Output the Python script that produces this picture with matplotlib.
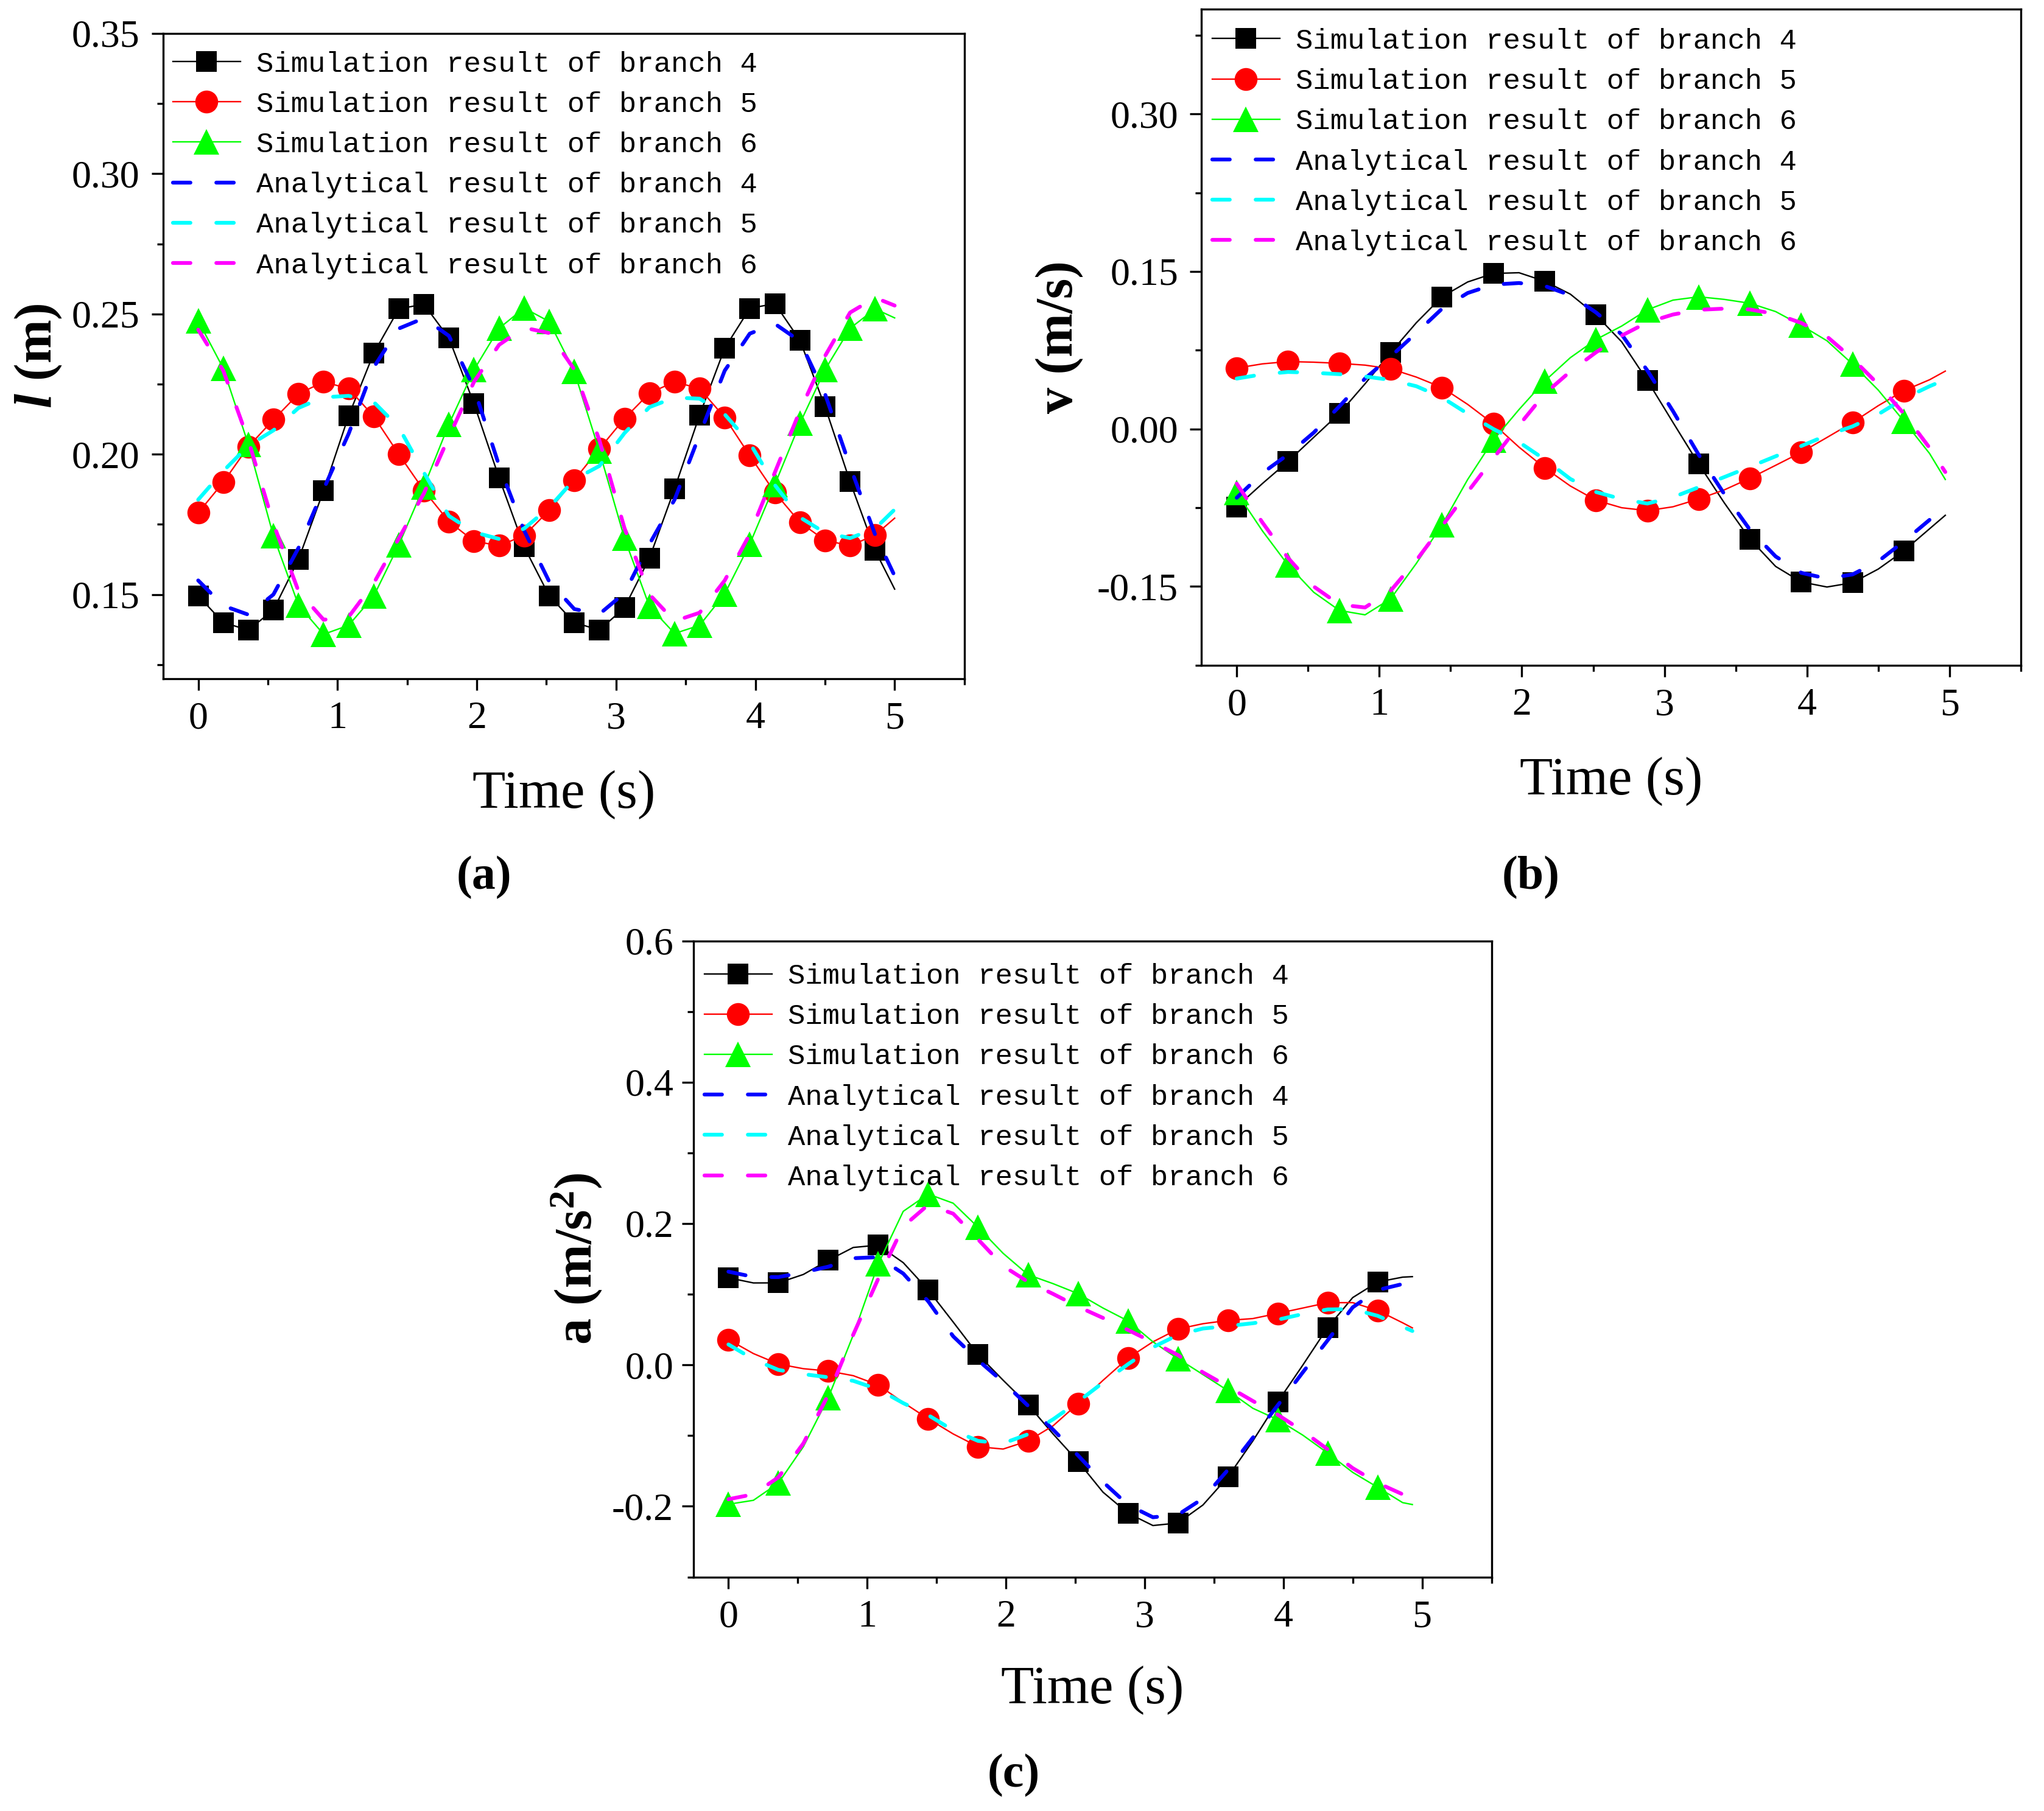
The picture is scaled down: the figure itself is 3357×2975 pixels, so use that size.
import matplotlib
matplotlib.use('Agg')
import matplotlib.pyplot as plt
from matplotlib.ticker import MultipleLocator, FormatStrFormatter

# fonts: Times-like for axes, narrow mono for the legend
plt.rcParams['font.family'] = 'Liberation Serif'
plt.rcParams['axes.unicode_minus'] = False
plt.rcParams['mathtext.fontset'] = 'custom'
plt.rcParams['mathtext.rm'] = 'Liberation Serif:bold'
plt.rcParams['mathtext.it'] = 'Liberation Serif:italic:bold'
plt.rcParams['mathtext.bf'] = 'Liberation Serif:bold'

# ---------------- data ----------------
labels = ['Simulation result of branch 4', 'Simulation result of branch 5',
          'Simulation result of branch 6', 'Analytical result of branch 4',
          'Analytical result of branch 5', 'Analytical result of branch 6']

# (a) length l (m)
t_a = [0.00, 0.18, 0.36, 0.54, 0.72, 0.90, 1.08, 1.26, 1.44, 1.62, 1.80, 1.98,
       2.16, 2.34, 2.52, 2.70, 2.88, 3.06, 3.24, 3.42, 3.60, 3.78, 3.96, 4.14,
       4.32, 4.50, 4.68, 4.86, 5.00]
sim_a4 = [0.1495, 0.1400, 0.1373, 0.1445, 0.1625, 0.1870, 0.2137, 0.2360, 0.2518,
          0.2535, 0.2414, 0.2180, 0.1916, 0.1670, 0.1495, 0.1400, 0.1373, 0.1453,
          0.1630, 0.1877, 0.2140, 0.2378, 0.2520, 0.2537, 0.2406, 0.2170, 0.1902,
          0.1657, 0.1519]
sim_a5 = [0.1791, 0.1900, 0.2027, 0.2123, 0.2215, 0.2258, 0.2234, 0.2135, 0.2000,
          0.1871, 0.1760, 0.1690, 0.1674, 0.1710, 0.1800, 0.1908, 0.2019, 0.2127,
          0.2218, 0.2258, 0.2234, 0.2131, 0.1995, 0.1863, 0.1757, 0.1693, 0.1674,
          0.1712, 0.1772]
sim_a6 = [0.2476, 0.2306, 0.2035, 0.1709, 0.1462, 0.1358, 0.1390, 0.1494, 0.1677,
          0.1884, 0.2107, 0.2301, 0.2449, 0.2521, 0.2473, 0.2295, 0.2011, 0.1701,
          0.1457, 0.1361, 0.1390, 0.1502, 0.1680, 0.1892, 0.2110, 0.2301, 0.2449,
          0.2518, 0.2486]
ana_a4 = [0.1550, 0.1460, 0.1428, 0.1500, 0.1666, 0.1875, 0.2073, 0.2310, 0.2448,
          0.2485, 0.2422, 0.2235, 0.1960, 0.1728, 0.1546, 0.1448, 0.1430, 0.1505,
          0.1680, 0.1838, 0.2070, 0.2298, 0.2430, 0.2465, 0.2403, 0.2215, 0.1957,
          0.1713, 0.1566]
ana_a5 = [0.1838, 0.1940, 0.2030, 0.2085, 0.2165, 0.2203, 0.2208, 0.2186, 0.2096,
          0.1935, 0.1780, 0.1722, 0.1698, 0.1735, 0.1810, 0.1910, 0.1958, 0.2075,
          0.2168, 0.2202, 0.2198, 0.2142, 0.2040, 0.1890, 0.1775, 0.1720, 0.1701,
          0.1735, 0.1803]
ana_a6 = [0.2444, 0.2298, 0.2050, 0.1752, 0.1512, 0.1410, 0.1420, 0.1540, 0.1700,
          0.1860, 0.2062, 0.2258, 0.2390, 0.2451, 0.2432, 0.2302, 0.2050, 0.1737,
          0.1500, 0.1405, 0.1435, 0.1550, 0.1715, 0.1935, 0.2155, 0.2350, 0.2505,
          0.2558, 0.2530]

# (b) velocity v (m/s)
t_b = [0.00, 0.18, 0.36, 0.54, 0.72, 0.90, 1.08, 1.26, 1.44, 1.62, 1.80, 1.98,
       2.16, 2.34, 2.52, 2.70, 2.88, 3.06, 3.24, 3.42, 3.60, 3.78, 3.96, 4.14,
       4.32, 4.50, 4.68, 4.86, 4.97]
sim_b4 = [-0.0741, -0.0520, -0.0309, -0.0080, 0.0148, 0.0430, 0.0728, 0.1012, 0.1259,
          0.1400, 0.1481, 0.1488, 0.1407, 0.1284, 0.1086, 0.0830, 0.0462, 0.0062,
          -0.0333, -0.0704, -0.1049, -0.1309, -0.1457, -0.1505, -0.1464, -0.1334,
          -0.1160, -0.0950, -0.0822]
sim_b5 = [0.0580, 0.0620, 0.0642, 0.0636, 0.0625, 0.0608, 0.0573, 0.0494, 0.0395,
          0.0234, 0.0049, -0.0173, -0.0370, -0.0543, -0.0679, -0.0750, -0.0778,
          -0.0741, -0.0667, -0.0580, -0.0469, -0.0346, -0.0222, -0.0081, 0.0062,
          0.0222, 0.0365, 0.0469, 0.0551]
sim_b6 = [-0.0605, -0.0970, -0.1296, -0.1555, -0.1728, -0.1770, -0.1617, -0.1280,
          -0.0913, -0.0481, -0.0106, 0.0185, 0.0456, 0.0679, 0.0852, 0.0980, 0.1135,
          0.1227, 0.1259, 0.1234, 0.1197, 0.1118, 0.0987, 0.0840, 0.0617, 0.0370,
          0.0074, -0.0234, -0.0481]
ana_b4 = [-0.0655, -0.0420, -0.0243, -0.0035, 0.0215, 0.0480, 0.0690, 0.0915, 0.1145,
          0.1295, 0.1375, 0.1390, 0.1362, 0.1274, 0.1110, 0.0900, 0.0557, 0.0170,
          -0.0245, -0.0620, -0.0960, -0.1214, -0.1370, -0.1425, -0.1385, -0.1260,
          -0.1070, -0.0865, -0.0730]
ana_b5 = [0.0480, 0.0520, 0.0543, 0.0535, 0.0522, 0.0500, 0.0467, 0.0407, 0.0300,
          0.0145, 0.0000, -0.0125, -0.0290, -0.0476, -0.0600, -0.0668, -0.0710,
          -0.0650, -0.0555, -0.0458, -0.0360, -0.0260, -0.0162, -0.0060, 0.0025,
          0.0140, 0.0290, 0.0407, 0.0470]
ana_b6 = [-0.0520, -0.0890, -0.1228, -0.1500, -0.1672, -0.1700, -0.1540, -0.1250,
          -0.0925, -0.0600, -0.0280, 0.0035, 0.0335, 0.0548, 0.0730, 0.0889, 0.1015,
          0.1090, 0.1135, 0.1146, 0.1138, 0.1095, 0.1010, 0.0880, 0.0670, 0.0425,
          0.0145, -0.0180, -0.0410]

# (c) acceleration a (m/s^2)
t_c = [0.00, 0.18, 0.36, 0.54, 0.72, 0.90, 1.08, 1.26, 1.44, 1.62, 1.80, 1.98,
       2.16, 2.34, 2.52, 2.70, 2.88, 3.06, 3.24, 3.42, 3.60, 3.78, 3.96, 4.14,
       4.32, 4.50, 4.68, 4.86, 4.93]
sim_c4 = [0.1233, 0.1160, 0.1161, 0.1280, 0.1480, 0.1662, 0.1695, 0.1447, 0.1061,
          0.0607, 0.0145, -0.0216, -0.0564, -0.0976, -0.1365, -0.1800, -0.2097,
          -0.2272, -0.2236, -0.1982, -0.1586, -0.1075, -0.0521, -0.0003, 0.0531,
          0.0953, 0.1174, 0.1242, 0.1249]
sim_c5 = [0.0359, 0.0161, 0.0013, -0.0053, -0.0086, -0.0152, -0.0284, -0.0531,
          -0.0762, -0.0976, -0.1157, -0.1190, -0.1075, -0.0861, -0.0547, -0.0218,
          0.0096, 0.0327, 0.0508, 0.0583, 0.0630, 0.0656, 0.0729, 0.0805, 0.0881,
          0.0881, 0.0771, 0.0596, 0.0524]
sim_c6 = [-0.1971, -0.1915, -0.1672, -0.1157, -0.0462, 0.0425, 0.1428, 0.2173, 0.2417,
          0.2288, 0.1946, 0.1579, 0.1276, 0.1150, 0.1009, 0.0805, 0.0623, 0.0327,
          0.0089, -0.0135, -0.0363, -0.0613, -0.0775, -0.0993, -0.1247, -0.1520,
          -0.1731, -0.1948, -0.1975]
ana_c4 = [0.1320, 0.1245, 0.1243, 0.1310, 0.1390, 0.1510, 0.1525, 0.1293, 0.0900,
          0.0405, 0.0066, -0.0240, -0.0578, -0.0915, -0.1280, -0.1655, -0.1980,
          -0.2155, -0.2120, -0.1890, -0.1485, -0.1030, -0.0570, -0.0105, 0.0350,
          0.0815, 0.1060, 0.1145, 0.1157]
ana_c5 = [0.0290, 0.0080, -0.0070, -0.0130, -0.0175, -0.0225, -0.0345, -0.0540,
          -0.0710, -0.0925, -0.1075, -0.1110, -0.0980, -0.0770, -0.0520, -0.0250,
          0.0010, 0.0250, 0.0425, 0.0515, 0.0550, 0.0590, 0.0640, 0.0720, 0.0785,
          0.0790, 0.0695, 0.0540, 0.0480]
ana_c6 = [-0.1900, -0.1830, -0.1590, -0.1110, -0.0420, 0.0430, 0.1220, 0.1960, 0.2265,
          0.2140, 0.1775, 0.1400, 0.1175, 0.1005, 0.0825, 0.0665, 0.0495, 0.0320,
          0.0140, -0.0105, -0.0305, -0.0510, -0.0705, -0.0935, -0.1195, -0.1460,
          -0.1670, -0.1830, -0.1877]

sim_colors = ['#000000', '#ff0000', '#00ff00']
sim_markers = ['s', 'o', '^']
sim_sizes = [24, 27, 30]
ana_colors = ['#0000ff', '#00ffff', '#ff00ff']


# Draw one panel: simulated curves with markers, analytical dashed on top
def draw_panel(ax, t, sims, anas, mark_step, ylim, ymajor, yminor, yfmt,
               ylabel, ylabel_x, xlabel_y, ypad, leg_xy):
    n = len(t) - 1  # last point is only the line end
    for i in range(3):
        ax.plot(t, sims[i], color=sim_colors[i], lw=1.7, marker=sim_markers[i],
                ms=sim_sizes[i], mew=0, markevery=slice(0, n, mark_step),
                label=labels[i], zorder=2)
    for i in range(3):
        ax.plot(t, anas[i], color=ana_colors[i], lw=4.5, dashes=(4.6, 6.8),
                dash_capstyle='round', label=labels[3 + i], zorder=3)

    ax.set_xlim(-0.25, 5.5)
    ax.set_ylim(*ylim)
    ax.xaxis.set_major_locator(MultipleLocator(1))
    ax.xaxis.set_minor_locator(MultipleLocator(0.5))
    ax.yaxis.set_major_locator(MultipleLocator(ymajor))
    ax.yaxis.set_minor_locator(MultipleLocator(yminor))
    ax.yaxis.set_major_formatter(FormatStrFormatter(yfmt))
    ax.tick_params(which='both', direction='out', top=False, right=False, width=2.4)
    ax.tick_params(which='major', length=14, labelsize=46)
    ax.tick_params(which='minor', length=7)
    ax.tick_params(axis='x', which='major', pad=13)
    ax.tick_params(axis='y', which='major', pad=ypad)
    for sp in ax.spines.values():
        sp.set_linewidth(2.4)

    ax.set_xlabel('Time (s)', fontsize=64)
    ax.xaxis.set_label_coords(0.5, xlabel_y)
    ax.set_ylabel(ylabel, fontsize=62, fontweight='bold')
    ax.yaxis.set_label_coords(ylabel_x, 0.5)

    ax.legend(loc='upper left', bbox_to_anchor=leg_xy, frameon=False,
              prop={'family': 'Liberation Mono', 'size': 34}, numpoints=1,
              handlelength=2.35, handletextpad=0.55, labelspacing=0.47,
              borderpad=0, borderaxespad=0)


fig = plt.figure(figsize=(33.57, 29.75), dpi=100)

ax_a = fig.add_axes([0.07993, 0.62528, 0.39184, 0.35624])
draw_panel(ax_a, t_a, [sim_a4, sim_a5, sim_a6], [ana_a4, ana_a5, ana_a6], 1,
           (0.12, 0.35), 0.05, 0.025, '%.2f', r'$l$ (m)', -0.124, -0.1417, 14,
           (0.0119, 0.973))

ax_b = fig.add_axes([0.58761, 0.63267, 0.40107, 0.36239])
draw_panel(ax_b, t_b, [sim_b4, sim_b5, sim_b6], [ana_b4, ana_b5, ana_b6], 2,
           (-0.225, 0.40), 0.15, 0.075, '%.2f', 'v (m/s)', -0.1438, -0.1393, 13,
           (0.0134, 0.971))

ax_c = fig.add_axes([0.33941, 0.12921, 0.39026, 0.35129])
draw_panel(ax_c, t_c, [sim_c4, sim_c5, sim_c6], [ana_c4, ana_c5, ana_c6], 2,
           (-0.3, 0.6), 0.2, 0.1, '%.1f', r'a (m/s$^2$)', -0.1125, -0.1391, 10,
           (0.0134, 0.965))

# sub-figure captions
fig.text(0.2368, 0.5155, '(a)', fontsize=56, fontweight='bold', ha='center', va='center')
fig.text(0.7489, 0.5155, '(b)', fontsize=56, fontweight='bold', ha='center', va='center')
fig.text(0.4960, 0.0195, '(c)', fontsize=56, fontweight='bold', ha='center', va='center')

fig.savefig('out.png', dpi=100)
plt.close(fig)
